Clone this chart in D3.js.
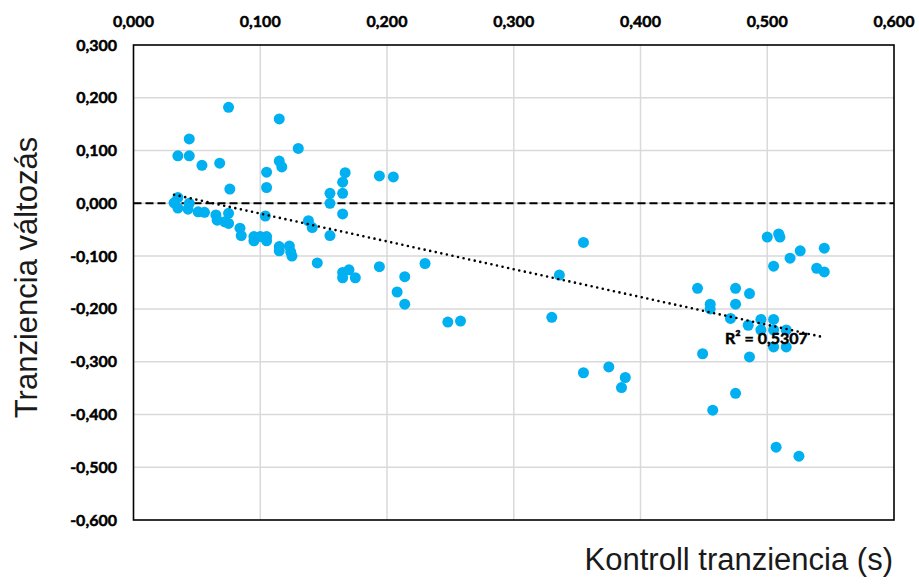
<!DOCTYPE html>
<html>
<head>
<meta charset="utf-8">
<script src="https://cdn.jsdelivr.net/npm/d3@7"></script>
<style>
  html, body { margin: 0; padding: 0; background: #fff; }
  svg { display: block; }
  .tick-label { font-family: Lato, "Open Sans", sans-serif; font-weight: 700; font-size: 16px; fill: #000; stroke: #000; stroke-width: 0.5px; }
  .axis-title { font-family: "Liberation Sans", Arial, sans-serif; font-size: 31px; fill: #1a1a1a; }
</style>
</head>
<body>
<svg id="chart" width="919" height="584"></svg>
<script>
// Control transience (s) for each measurement
const controlTransience = [
  0.035, 0.032, 0.035, 0.044, 0.043, 0.051, 0.056, 0.065, 0.066, 0.072,
  0.075, 0.075, 0.076, 0.084, 0.085, 0.095, 0.095, 0.100, 0.105, 0.105,
  0.104, 0.105, 0.105, 0.115, 0.115, 0.123, 0.124, 0.125,
  0.035, 0.044, 0.044, 0.054, 0.068, 0.075, 0.115, 0.115, 0.117, 0.130,
  0.155, 0.155, 0.165, 0.165, 0.167, 0.165, 0.194, 0.205,
  0.138, 0.141, 0.155, 0.145, 0.165, 0.170, 0.165, 0.175, 0.194, 0.214,
  0.208, 0.214, 0.230, 0.248, 0.258,
  0.330, 0.336, 0.355, 0.355, 0.375, 0.388, 0.385,
  0.445, 0.455, 0.455, 0.449, 0.475, 0.475, 0.486, 0.471, 0.485, 0.495,
  0.505, 0.495, 0.505, 0.515, 0.505, 0.515, 0.486, 0.475, 0.457, 0.507,
  0.525, 0.500, 0.509, 0.510, 0.505, 0.518, 0.526, 0.545, 0.539, 0.545
];
// Change in transience for the same measurements
const transienceChange = [
  0.011, 0.001, -0.009, 0.000, -0.011, -0.016, -0.017, -0.022, -0.032, -0.035,
  -0.019, -0.038, 0.027, -0.047, -0.061, -0.063, -0.071, -0.063, -0.063, -0.071,
  -0.024, 0.059, 0.030, -0.082, -0.090, -0.081, -0.092, -0.100,
  0.090, 0.090, 0.122, 0.072, 0.076, 0.182, 0.160, 0.080, 0.069, 0.104,
  0.019, 0.000, 0.019, 0.040, 0.058, -0.020, 0.052, 0.050,
  -0.033, -0.046, -0.061, -0.113, -0.131, -0.126, -0.141, -0.141, -0.120, -0.139,
  -0.168, -0.191, -0.114, -0.225, -0.223,
  -0.216, -0.136, -0.074, -0.321, -0.310, -0.330, -0.349,
  -0.161, -0.191, -0.200, -0.285, -0.161, -0.191, -0.171, -0.218, -0.231, -0.220,
  -0.220, -0.240, -0.240, -0.240, -0.272, -0.272, -0.291, -0.360, -0.392, -0.462,
  -0.479, -0.064, -0.058, -0.064, -0.119, -0.104, -0.090, -0.085, -0.123, -0.130
];
const xTicks = [0, 0.1, 0.2, 0.3, 0.4, 0.5, 0.6];
const yTicks = [0.3, 0.2, 0.1, 0, -0.1, -0.2, -0.3, -0.4, -0.5, -0.6];
const rSquared = 0.5307;
const xTitle = "Kontroll tranziencia (s)";
const yTitle = "Tranziencia változás";

const svg = d3.select("#chart");
const plotLeft = 133.5, plotRight = 894, plotTop = 45, plotBottom = 520;

const x = d3.scaleLinear().domain([0, 0.6]).range([plotLeft, plotRight]);
const y = d3.scaleLinear().domain([-0.6, 0.3]).range([plotBottom, plotTop]);

const loc = d3.formatLocale({ decimal: ",", thousands: " ", grouping: [3], currency: ["", ""], minus: "-" });
const fmt3 = loc.format(".3f");
const fmt4 = loc.format(".4f");

// Gridlines
const grid = svg.append("g").attr("stroke", "#d9d9d9").attr("stroke-width", 1.5);
grid.selectAll(".gx").data(xTicks.slice(1, -1)).join("line")
  .attr("x1", d => x(d)).attr("x2", d => x(d)).attr("y1", plotTop).attr("y2", plotBottom);
grid.selectAll(".gy").data(yTicks.slice(1, -1)).join("line")
  .attr("x1", plotLeft).attr("x2", plotRight).attr("y1", d => y(d)).attr("y2", d => y(d));

// Zero reference line
svg.append("line")
  .attr("x1", plotLeft).attr("x2", plotRight).attr("y1", y(0)).attr("y2", y(0))
  .attr("stroke", "#000").attr("stroke-width", 2).attr("stroke-dasharray", "8 4");

// Points
const pts = controlTransience.map((v, i) => ({ x: v, y: transienceChange[i] }));
svg.append("g").selectAll("circle").data(pts).join("circle")
  .attr("cx", d => x(d.x)).attr("cy", d => y(d.y)).attr("r", 5.5)
  .attr("fill", "#00b0f0");

// Linear least-squares trendline over the data range
const mx = d3.mean(pts, d => d.x), my = d3.mean(pts, d => d.y);
const sxy = d3.sum(pts, d => (d.x - mx) * (d.y - my));
const sxx = d3.sum(pts, d => (d.x - mx) ** 2);
const slope = sxy / sxx, intercept = my - slope * mx;
const [x0, x1] = d3.extent(pts, d => d.x);
svg.append("line")
  .attr("x1", x(x0)).attr("y1", y(intercept + slope * x0))
  .attr("x2", x(x1)).attr("y2", y(intercept + slope * x1))
  .attr("stroke", "#000").attr("stroke-width", 2.6)
  .attr("stroke-linecap", "round").attr("stroke-dasharray", "0 5.7");

// Frame
svg.append("rect").attr("x", plotLeft).attr("y", plotTop)
  .attr("width", plotRight - plotLeft).attr("height", plotBottom - plotTop)
  .attr("fill", "none").attr("stroke", "#000").attr("stroke-width", 1.6);

// Axis tick labels (x along the top, y on the left)
svg.append("g").selectAll("text").data(xTicks).join("text")
  .attr("class", "tick-label").attr("x", d => x(d)).attr("y", 27)
  .attr("text-anchor", "middle").text(d => fmt3(d));
svg.append("g").selectAll("text").data(yTicks).join("text")
  .attr("class", "tick-label").attr("x", 117).attr("y", d => y(d) + 5.5)
  .attr("text-anchor", "end").text(d => fmt3(d));

// Trendline label
svg.append("text").attr("class", "tick-label")
  .attr("x", 725).attr("y", 344)
  .text("R² = " + fmt4(rSquared));

// Axis titles
svg.append("text").attr("class", "axis-title")
  .attr("x", 893).attr("y", 570).attr("text-anchor", "end").text(xTitle);
svg.append("text").attr("class", "axis-title")
  .attr("transform", "translate(36.5,277.5) rotate(-90)")
  .attr("text-anchor", "middle").text(yTitle);
</script>
</body>
</html>
